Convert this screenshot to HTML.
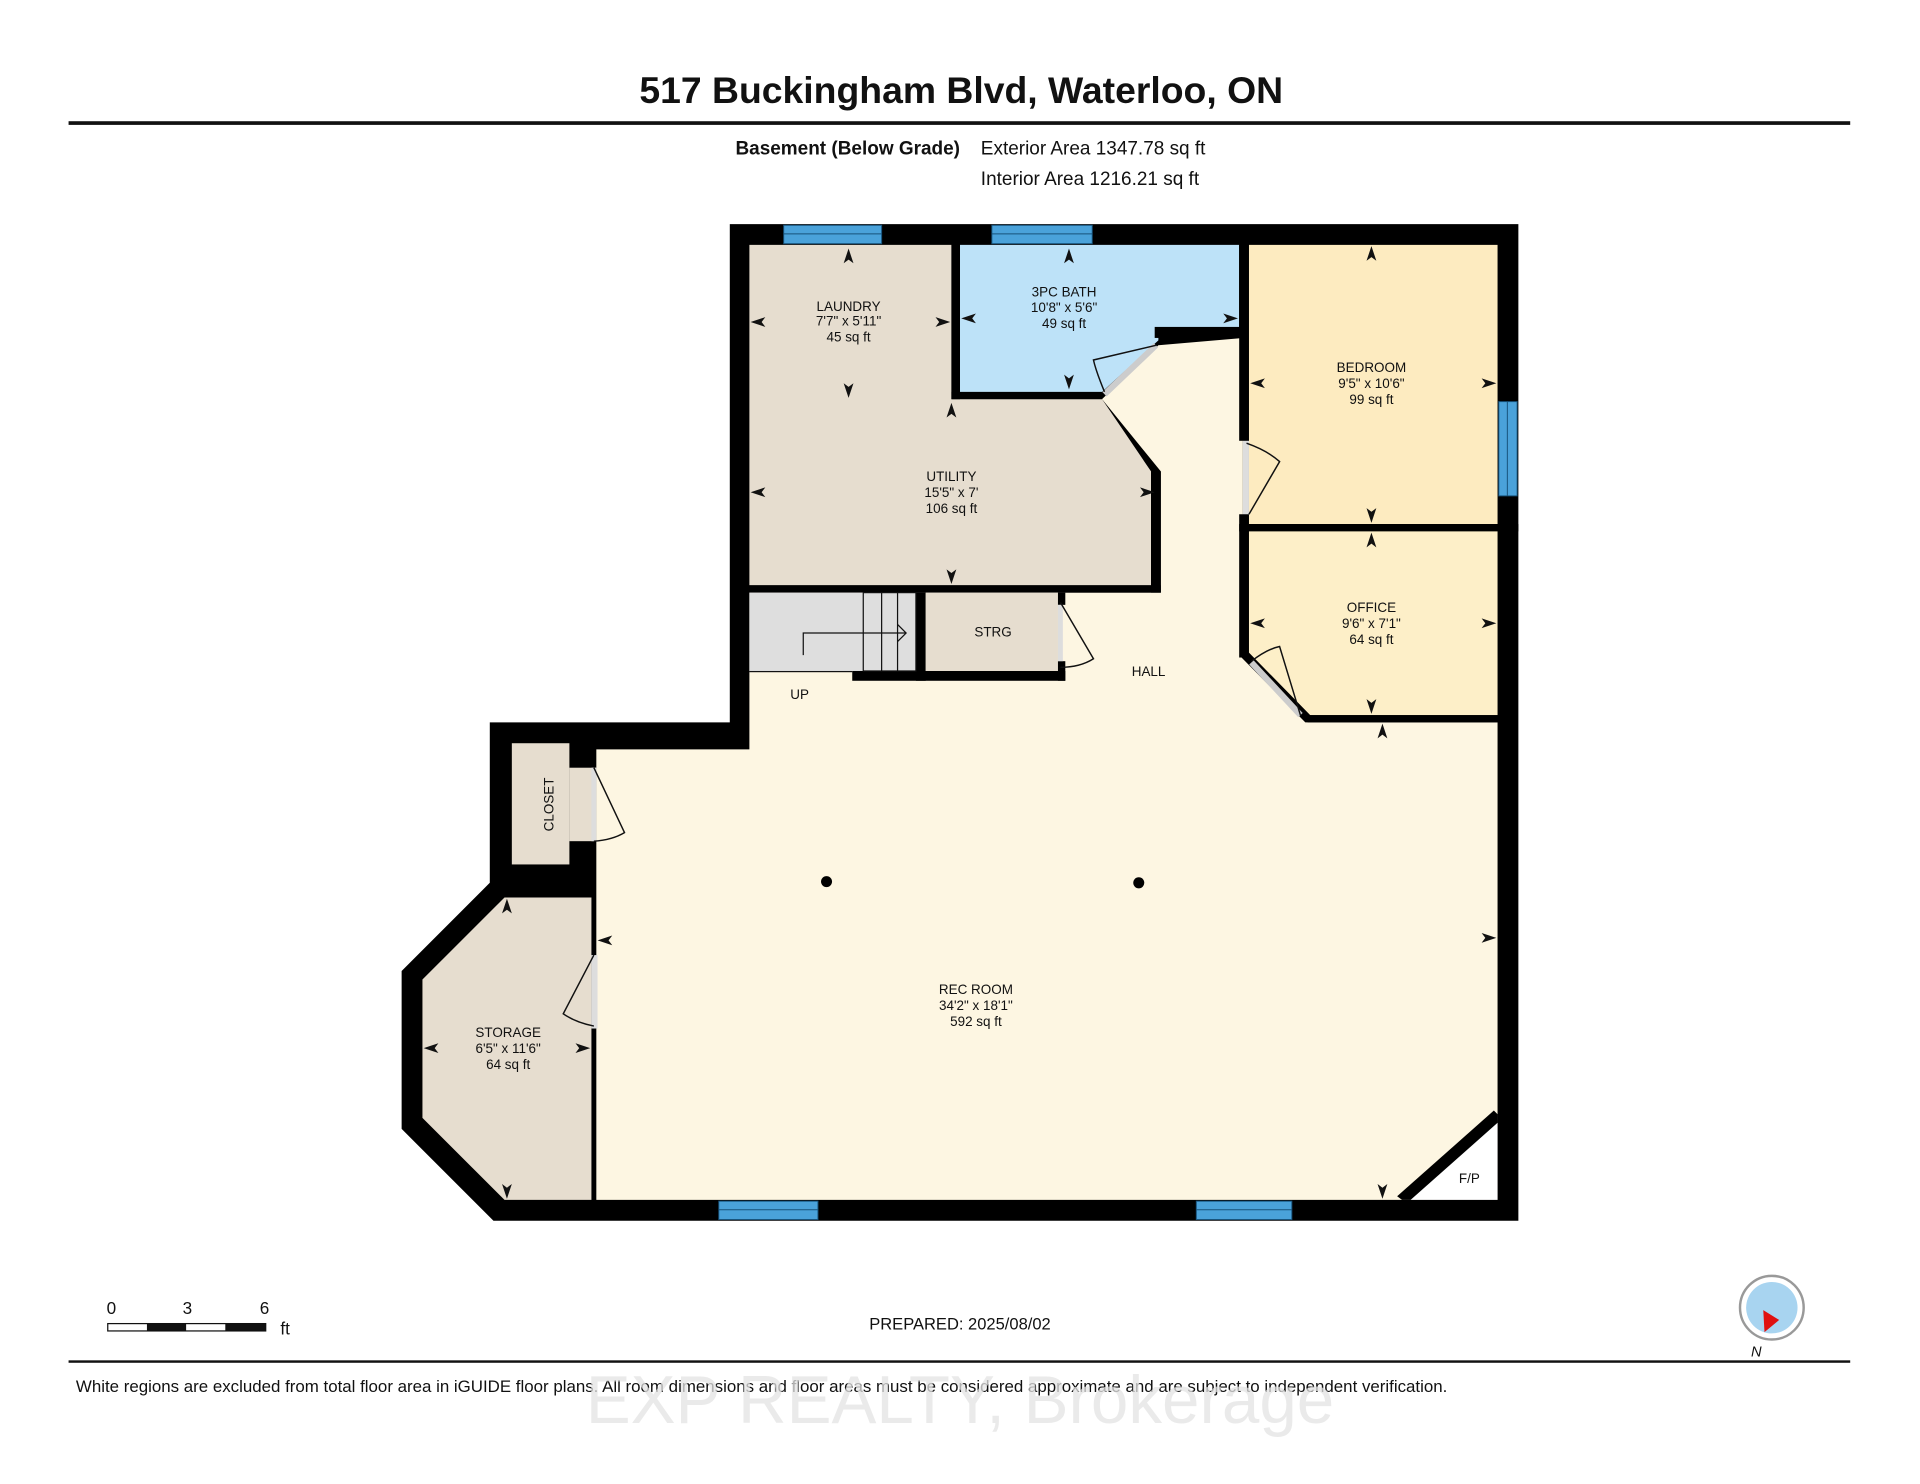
<!DOCTYPE html>
<html><head><meta charset="utf-8"><style>
html,body{margin:0;padding:0;background:#fff;width:1920px;height:1484px;overflow:hidden}
svg{display:block}
text{font-family:"Liberation Sans",Arial,sans-serif;fill:#111}
</style></head><body>
<svg width="1920" height="1484" viewBox="0 0 1568 1212" preserveAspectRatio="none">
<text x="785" y="84" font-size="30.5" font-weight="bold" text-anchor="middle">517 Buckingham Blvd, Waterloo, ON</text>
<rect x="56" y="99" width="1455" height="3" fill="#111"/>
<text x="784" y="126" font-size="15.5" font-weight="bold" text-anchor="end">Basement (Below Grade)</text>
<text x="801" y="126" font-size="15.5">Exterior Area 1347.78 sq ft</text>
<text x="801" y="151" font-size="15.5">Interior Area 1216.21 sq ft</text>

<polygon points="596,183 1240,183 1240,997 403,997 328,922 328,793 400,721 400,590 596,590" fill="#000"/>
<polygon points="612,484 948,484 948,385 900,326 946,282 1015,276 1015,535 1068,590 1223,590 1223,980 487,980 487,612 612,612" fill="#fdf6e2"/>
<polygon points="612,200 777,200 777,326 900,326 940,385 940,478 612,478" fill="#e6ddcf"/>
<rect x="940" y="385" width="8" height="99" fill="#000"/>
<rect x="612" y="478" width="336" height="6" fill="#000"/>
<rect x="777" y="200" width="7" height="126" fill="#000"/>
<rect x="777" y="320" width="123" height="6" fill="#000"/>
<polygon points="784,200 1012,200 1012,268 946,268 946,278 900,320 784,320" fill="#bde2f8"/>
<rect x="943" y="267" width="72" height="9" fill="#000"/>
<rect x="1012" y="200" width="8" height="76" fill="#000"/>
<line x1="902" y1="322" x2="944" y2="282" stroke="#ccc" stroke-width="5"/>
<path d="M902,320 Q895,303 893,294 L944,282" fill="none" stroke="#111" stroke-width="1.2"/>
<rect x="1012" y="200" width="8" height="160" fill="#000"/>
<rect x="1012" y="420" width="8" height="117" fill="#000"/>
<rect x="1015" y="360" width="5" height="60" fill="#ddd"/>
<rect x="1020" y="200" width="203" height="228" fill="#fdebc0"/>
<path d="M1018,362 Q1035,368 1045,377 L1020,420" fill="none" stroke="#111" stroke-width="1.2"/>
<rect x="1012" y="428" width="228" height="6" fill="#000"/>
<polygon points="1020,434 1223,434 1223,584 1068,584 1020,537" fill="#fdefc8"/>
<polygon points="1012,535 1020,533 1070,584 1223,584 1223,590 1066,590" fill="#000"/>
<line x1="1022" y1="541" x2="1062" y2="584" stroke="#ccc" stroke-width="5"/>
<path d="M1022,540 Q1035,530 1045,528 L1062,584" fill="none" stroke="#111" stroke-width="1.2"/>
<rect x="612" y="484" width="136" height="64" fill="#dedede"/>
<rect x="748" y="484" width="8" height="72" fill="#000"/>
<rect x="696" y="548" width="174" height="8" fill="#000"/>
<rect x="612" y="548" width="84" height="1" fill="#111"/>
<g stroke="#111" stroke-width="1" fill="none">
<rect x="705" y="484" width="43" height="64"/><line x1="720" y1="484" x2="720" y2="548"/><line x1="733" y1="484" x2="733" y2="548"/>
<path d="M656,535 L656,517 L740,517 M733,510 L740,517 L733,524"/>
</g>
<rect x="756" y="484" width="108" height="64" fill="#e6ddcf"/>
<rect x="864" y="484" width="6" height="10" fill="#000"/>
<rect x="864" y="540" width="6" height="16" fill="#000"/>
<rect x="864" y="494" width="4" height="46" fill="#ddd"/>
<path d="M866,492 L893,538 Q882,545 866,545" fill="none" stroke="#111" stroke-width="1.2"/>
<rect x="418" y="607" width="47" height="99" fill="#e6ddcf"/>
<rect x="465" y="627" width="22" height="60" fill="#e6ddcf"/>
<rect x="483" y="627" width="4" height="60" fill="#ddd"/>
<path d="M485,627 L510,680 Q500,686 485,687" fill="none" stroke="#111" stroke-width="1.2"/>
<polygon points="345,800 412,733 483,733 483,980 412,980 345,913" fill="#e6ddcf"/>
<rect x="483" y="780" width="5" height="60" fill="#ddd"/>
<path d="M485,780 L460,828 Q470,835 485,838" fill="none" stroke="#111" stroke-width="1.2"/>
<polygon points="1223,910 1223,980 1145,980 1141,977 1220,907" fill="#000"/>
<polygon points="1223,917 1223,980 1152,980" fill="#fff"/>
<text x="1200" y="966" font-size="11" text-anchor="middle">F/P</text>
<g fill="#4aa2da" stroke="#17527a" stroke-width="0.8">
<rect x="640" y="184" width="80" height="15"/><line x1="640" y1="191" x2="720" y2="191"/>
<rect x="810" y="184" width="82" height="15"/><line x1="810" y1="191" x2="892" y2="191"/>
<rect x="1224" y="328" width="15" height="77"/><line x1="1231" y1="328" x2="1231" y2="405"/>
<rect x="587" y="981" width="81" height="15"/><line x1="587" y1="988" x2="668" y2="988"/>
<rect x="977" y="981" width="78" height="15"/><line x1="977" y1="988" x2="1055" y2="988"/>
</g>
<circle cx="675" cy="720" r="4.5" fill="#000"/>
<circle cx="930" cy="721" r="4.5" fill="#000"/>
<g font-size="11" text-anchor="middle">
<text x="693" y="254">LAUNDRY</text><text x="693" y="266">7'7" x 5'11"</text><text x="693" y="279">45 sq ft</text>
<text x="869" y="242">3PC BATH</text><text x="869" y="255">10'8" x 5'6"</text><text x="869" y="268">49 sq ft</text>
<text x="1120" y="304">BEDROOM</text><text x="1120" y="317">9'5" x 10'6"</text><text x="1120" y="330">99 sq ft</text>
<text x="777" y="393">UTILITY</text><text x="777" y="406">15'5" x 7'</text><text x="777" y="419">106 sq ft</text>
<text x="811" y="520">STRG</text>
<text x="938" y="552">HALL</text>
<text x="653" y="571">UP</text>
<text x="1120" y="500">OFFICE</text><text x="1120" y="513">9'6" x 7'1"</text><text x="1120" y="526">64 sq ft</text>
<text x="797" y="812">REC ROOM</text><text x="797" y="825">34'2" x 18'1"</text><text x="797" y="838">592 sq ft</text>
<text x="415" y="847">STORAGE</text><text x="415" y="860">6'5" x 11'6"</text><text x="415" y="873">64 sq ft</text>
<text x="452" y="657" transform="rotate(-90 452 657)">CLOSET</text>
</g>
<g fill="#111">
<path d="M693,203 l-4,12 l4,-3 l4,3z"/><path d="M693,325 l-4,-12 l4,3 l4,-3z"/>
<path d="M613,263 l12,-4 l-3,4 l3,4z"/><path d="M776,263 l-12,-4 l3,4 l-3,4z"/>
<path d="M873,203 l-4,12 l4,-3 l4,3z"/><path d="M873,318 l-4,-12 l4,3 l4,-3z"/>
<path d="M785,260 l12,-4 l-3,4 l3,4z"/><path d="M1011,260 l-12,-4 l3,4 l-3,4z"/>
<path d="M777,329 l-4,12 l4,-3 l4,3z"/><path d="M777,477 l-4,-12 l4,3 l4,-3z"/>
<path d="M613,402 l12,-4 l-3,4 l3,4z"/><path d="M943,402 l-12,-4 l3,4 l-3,4z"/>
<path d="M1120,201 l-4,12 l4,-3 l4,3z"/><path d="M1120,427 l-4,-12 l4,3 l4,-3z"/>
<path d="M1021,313 l12,-4 l-3,4 l3,4z"/><path d="M1222,313 l-12,-4 l3,4 l-3,4z"/>
<path d="M1120,435 l-4,12 l4,-3 l4,3z"/><path d="M1120,583 l-4,-12 l4,3 l4,-3z"/>
<path d="M1021,509 l12,-4 l-3,4 l3,4z"/><path d="M1222,509 l-12,-4 l3,4 l-3,4z"/>
<path d="M1129,591 l-4,12 l4,-3 l4,3z"/><path d="M1129,979 l-4,-12 l4,3 l4,-3z"/>
<path d="M488,768 l12,-4 l-3,4 l3,4z"/><path d="M1222,766 l-12,-4 l3,4 l-3,4z"/>
<path d="M414,734 l-4,12 l4,-3 l4,3z"/><path d="M414,979 l-4,-12 l4,3 l4,-3z"/>
<path d="M346,856 l12,-4 l-3,4 l3,4z"/><path d="M482,856 l-12,-4 l3,4 l-3,4z"/>
</g>
<g font-size="14">
<text x="91" y="1073" text-anchor="middle">0</text><text x="153" y="1073" text-anchor="middle">3</text><text x="216" y="1073" text-anchor="middle">6</text><text x="229" y="1090">ft</text>
</g>
<rect x="88" y="1081" width="129" height="6" fill="#fff" stroke="#111" stroke-width="1"/>
<rect x="120" y="1081" width="32" height="6" fill="#111"/><rect x="184" y="1081" width="33" height="6" fill="#111"/>
<text x="784" y="1086" font-size="13.5" text-anchor="middle">PREPARED: 2025/08/02</text>
<circle cx="1447" cy="1068" r="26" fill="#fff" stroke="#999" stroke-width="2"/>
<circle cx="1447" cy="1068" r="21" fill="#a8d4f0"/>
<polygon points="1440,1070 1453,1078 1441,1088" fill="#e01010"/>
<text x="1430" y="1108" font-size="12" font-style="italic">N</text>
<rect x="56" y="1111" width="1455" height="2" fill="#111"/>
<text x="62" y="1137" font-size="13.8">White regions are excluded from total floor area in iGUIDE floor plans. All room dimensions and floor areas must be considered approximate and are subject to independent verification.</text>
<text x="784" y="1162" font-size="55" text-anchor="middle" style="fill:#e4e4e4;opacity:.75">EXP REALTY, Brokerage</text>
</svg>
</body></html>
